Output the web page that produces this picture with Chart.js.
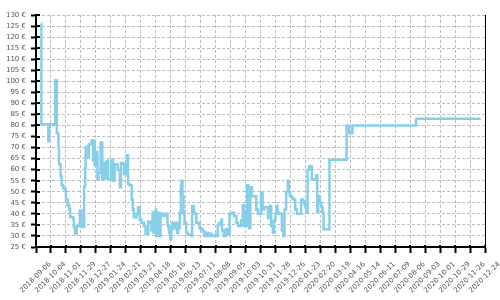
<!DOCTYPE html>
<html>
<head>
<meta charset="utf-8">
<script src="https://cdn.jsdelivr.net/npm/chart.js@4.4.1/dist/chart.umd.min.js"></script>
<style>
html,body{margin:0;padding:0;background:#fff;}
#wrap{width:500px;height:300px;}
</style>
</head>
<body>
<div id="wrap"><canvas id="c" width="500" height="300"></canvas></div>
<script>
// ---- data ----
const startDate = '2018-09-06';
const tickStepDays = 28;
const tickCount = 31;
const yMin = 25, yMax = 130, yStep = 5;
const currency = '€';

const dates = [
  '2018-09-15','2018-09-16','2018-09-29','2018-10-01','2018-10-12','2018-10-15','2018-10-18','2018-10-19',
  '2018-10-22','2018-10-24','2018-10-27','2018-10-30','2018-11-01','2018-11-04','2018-11-07','2018-11-09',
  '2018-11-15','2018-11-16','2018-11-18','2018-11-21','2018-11-25','2018-11-27','2018-11-30','2018-12-05',
  '2018-12-07','2018-12-08','2018-12-11','2018-12-13','2018-12-14','2018-12-19','2018-12-22','2018-12-24',
  '2018-12-25','2018-12-28','2018-12-30','2019-01-01','2019-01-05','2019-01-08','2019-01-10','2019-01-13',
  '2019-01-16','2019-01-19','2019-01-25','2019-01-28','2019-01-31','2019-02-06','2019-02-10','2019-02-12',
  '2019-02-16','2019-02-18','2019-02-21','2019-02-23','2019-02-25','2019-02-28','2019-03-04','2019-03-06',
  '2019-03-08','2019-03-13','2019-03-16','2019-03-19','2019-03-22','2019-03-27','2019-03-30','2019-04-04',
  '2019-04-07','2019-04-10','2019-04-12','2019-04-14','2019-04-16','2019-04-18','2019-04-19','2019-04-22',
  '2019-04-25','2019-04-27','2019-05-02','2019-05-05','2019-05-10','2019-05-12','2019-05-13','2019-05-15',
  '2019-05-17','2019-05-19','2019-05-22','2019-05-25','2019-05-28','2019-05-30','2019-06-02','2019-06-04',
  '2019-06-05','2019-06-07','2019-06-09','2019-06-11','2019-06-14','2019-06-17','2019-06-24','2019-06-25',
  '2019-06-28','2019-06-30','2019-07-03','2019-07-09','2019-07-12','2019-07-15','2019-07-18','2019-07-22',
  '2019-07-25','2019-07-28','2019-07-31','2019-08-06','2019-08-09','2019-08-12','2019-08-15','2019-08-19',
  '2019-08-20','2019-08-23','2019-08-27','2019-08-31','2019-09-03','2019-09-09','2019-09-12','2019-09-16',
  '2019-09-19','2019-09-25','2019-09-28','2019-09-30','2019-10-02','2019-10-04','2019-10-06','2019-10-08',
  '2019-10-10','2019-10-12','2019-10-15','2019-10-23','2019-10-26','2019-11-01','2019-11-04','2019-11-07',
  '2019-11-14','2019-11-15','2019-11-18','2019-11-20','2019-11-23','2019-11-25','2019-11-28','2019-11-30',
  '2019-12-02','2019-12-05','2019-12-10','2019-12-13','2019-12-15','2019-12-18','2019-12-21','2019-12-23',
  '2019-12-25','2019-12-29','2020-01-01','2020-01-04','2020-01-07','2020-01-15','2020-01-18','2020-01-21',
  '2020-01-23','2020-01-25','2020-01-27','2020-01-30','2020-02-04','2020-02-12','2020-02-14','2020-02-16',
  '2020-02-19','2020-02-22','2020-02-24','2020-02-26','2020-03-08','2020-04-09','2020-04-14','2020-04-20',
  '2020-08-17','2020-12-16'
];

const prices = [
  126, 80.5, 73, 80.5, 100.5, 76.5, 70, 62.5,
  57, 53, 51.5, 51, 46.5, 44, 42, 38.5,
  37.5, 34, 31, 34.5, 35, 41.5, 34, 52.5,
  61, 70, 70.5, 66, 71.5, 73.3, 64, 73,
  62, 68, 55.5, 58.5, 72.3, 55.5, 63, 56,
  64, 55.5, 64.5, 55, 62.5, 60, 52, 63,
  62.5, 58, 62, 66.5, 53.5, 53, 46.5, 42,
  38.5, 40, 43, 37.5, 36, 34.5, 31, 36.5,
  36, 32.5, 40.5, 31.5, 41, 42, 30, 40.5,
  30, 40, 39, 40, 35, 33.5, 31.5, 28.5,
  33, 36, 33.5, 36, 31.5, 33.5, 40.5, 52.5,
  55, 48, 40, 36, 31.5, 30.5, 30, 43.5,
  41, 40, 36, 33.5, 33, 32, 30, 31.5,
  30, 31, 30, 30.5, 30, 35, 36, 37.5,
  32.5, 30, 33, 30.5, 40, 40.5, 39, 36,
  34.5, 37, 44, 34.5, 40.5, 34.5, 53, 46.5,
  33.5, 52, 48, 42, 40, 49.5, 42, 43,
  38, 41, 43.5, 34.5, 31.5, 37, 40, 43.5,
  40.5, 40, 32.5, 30, 42, 50, 55, 50,
  48, 47, 46.5, 42, 40, 46.5, 46, 44.5,
  43, 40.5, 60, 61.5, 55.5, 57.5, 41, 48,
  45, 43, 40.5, 33, 64.5, 80, 76.5, 80,
  83, 83
];

// ---- helpers ----
const DAY_MS = 86400000;
const t0 = Date.parse(startDate + 'T00:00:00Z');
const toDay = d => Math.round((Date.parse(d + 'T00:00:00Z') - t0) / DAY_MS);
const fmtDay = n => new Date(t0 + n * DAY_MS).toISOString().slice(0, 10);
const points = dates.map((d, i) => ({x: toDay(d), y: prices[i]}));

const FONT = {family: 'DejaVu Sans', size: 7};
const TEXT = '#555';
const GRID = '#bdbdbd';

const axisDecor = {
  id: 'axisDecor',
  beforeDatasetsDraw(chart) {
    const {ctx, chartArea: a, scales: {x, y}} = chart;
    ctx.save();
    ctx.strokeStyle = '#000';
    ctx.lineWidth = 1;
    ctx.beginPath();
    ctx.moveTo(a.right + 0.5, a.top);
    ctx.lineTo(a.right + 0.5, a.bottom);
    ctx.stroke();
    ctx.lineWidth = 2;
    ctx.beginPath();
    y.ticks.forEach(t => {
      const py = Math.round(y.getPixelForValue(t.value));
      ctx.moveTo(a.left, py); ctx.lineTo(a.left + 4, py);
    });
    x.ticks.forEach(t => {
      const px = Math.round(x.getPixelForValue(t.value));
      ctx.moveTo(px, a.bottom); ctx.lineTo(px, a.bottom - 2);
    });
    ctx.stroke();
    ctx.restore();
  }
};

new Chart(document.getElementById('c'), {
  type: 'line',
  data: {
    datasets: [{
      data: points,
      borderColor: '#87CEEB',
      borderWidth: 2.5,
      pointRadius: 0,
      pointHoverRadius: 0,
      stepped: true,
      tension: 0,
      fill: false
    }]
  },
  options: {
    responsive: false,
    animation: false,
    devicePixelRatio: 1,
    events: [],
    layout: {padding: {top: 15, right: 15, left: 0, bottom: 0}},
    plugins: {legend: {display: false}, tooltip: {enabled: false}, title: {display: false}},
    scales: {
      x: {
        type: 'linear',
        min: 0,
        max: tickStepDays * (tickCount - 1),
        afterBuildTicks(scale) {
          const arr = [];
          for (let i = 0; i < tickCount; i++) arr.push({value: i * tickStepDays});
          scale.ticks = arr;
        },
        afterFit(scale) {
          scale.height = 53;
          scale.paddingLeft = 0; scale.paddingRight = 0;
        },
        grid: {color: GRID, lineWidth: 1, drawTicks: true, tickLength: 6, tickColor: '#000', tickWidth: 2},
        border: {display: true, color: '#000', width: 2, dash: [3, 2]},
        ticks: {
          autoSkip: false, minRotation: 45, maxRotation: 45,
          padding: 7, labelOffset: 14,
          color: TEXT, font: FONT,
          callback: v => fmtDay(v)
        }
      },
      y: {
        type: 'linear',
        min: yMin, max: yMax,
        afterFit(scale) {
          scale.width = 36;
          scale.paddingTop = 0; scale.paddingBottom = 0;
        },
        grid: {color: GRID, lineWidth: 1, drawTicks: true, tickLength: 5, tickColor: '#000', tickWidth: 2},
        border: {display: true, color: '#000', width: 2, dash: [3, 2]},
        ticks: {
          stepSize: yStep, padding: 5, autoSkip: false,
          color: TEXT, font: FONT,
          callback: v => v + ' ' + currency
        }
      }
    }
  },
  plugins: [axisDecor]
});
</script>
</body>
</html>
